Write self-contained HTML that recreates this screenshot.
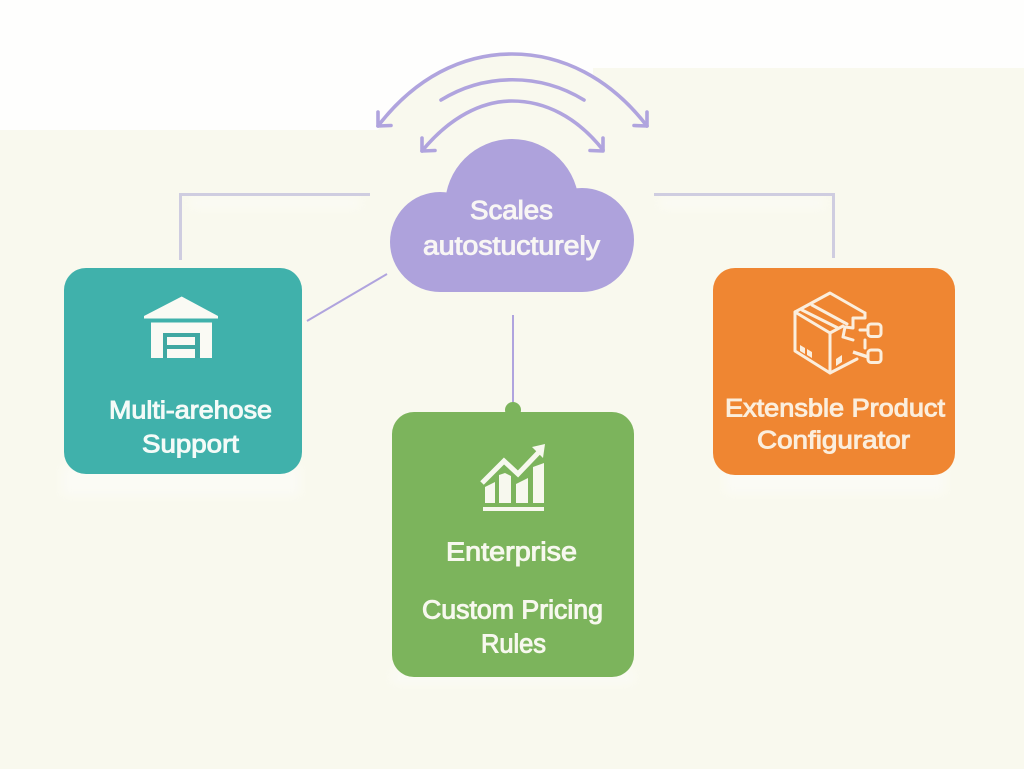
<!DOCTYPE html>
<html lang="en">
<head>
<meta charset="utf-8">
<title>Scales autostucturely</title>
<style>
html,body{margin:0;padding:0;background:#fff;width:1024px;height:769px;overflow:hidden}
svg{display:block}
text{font-family:"Liberation Sans",sans-serif;font-weight:400;text-anchor:start;stroke-width:.95;paint-order:stroke}
</style>
</head>
<body>
<svg width="1024" height="769" viewBox="0 0 1024 769" xmlns="http://www.w3.org/2000/svg">
<defs><filter id="b" x="-20%" y="-50%" width="140%" height="200%"><feGaussianBlur stdDeviation="5"/></filter></defs>
<rect width="1024" height="769" fill="#fefefd"/>
<polygon points="0,130 593,130 593,68 1024,68 1024,769 0,769" fill="#f9f9ee"/>
<path d="M378 130 C 415 78 462 54 512 54 C 545 54 575 62 600 80 L600 130 Z" fill="#f9f9ee"/>

<!-- soft halos -->
<g fill="#fbfbf5" filter="url(#b)">
<rect x="62" y="466" width="238" height="30"/>
<rect x="725" y="468" width="220" height="26"/>
<rect x="392" y="670" width="242" height="14"/>
<rect x="190" y="198" width="170" height="10"/>
<rect x="660" y="198" width="165" height="10"/>
</g>

<!-- arcs -->
<g fill="none" stroke="#b0a4de" stroke-width="3.6" stroke-linecap="round" stroke-linejoin="round">
<path d="M378 126 C 415 78 462 54 512 54 C 562 54 610 78 647 126"/>
<path d="M378 112 L378 126 L391 125.500"/>
<path d="M647 112 L647 126 L634 125.500"/>
<path d="M441 100 C 485 73 540 73 584 100"/>
<path d="M422 151 C 450 117 482 101 512 101 C 545 101 577 117 603 150"/>
<path d="M422 138 L422 151 L435 150.500"/>
<path d="M603 138 L603 151 L590 150.500"/>
</g>

<!-- connectors -->
<g fill="none" stroke="#cfcde0" stroke-width="3">
<path d="M370 194.500 L180.500 194.500 L180.500 260"/>
<path d="M654 194.500 L833.500 194.500 L833.500 258"/>
</g>
<path d="M387 274 L307 321" stroke="#b0a4de" stroke-width="2" fill="none"/>
<path d="M513 315 L513 405" stroke="#b0a4de" stroke-width="2" fill="none"/>

<!-- cloud -->
<g fill="#aea2dc">
<circle cx="512" cy="206" r="67"/>
<circle cx="440" cy="242" r="50"/>
<circle cx="582" cy="240" r="52"/>
<rect x="440" y="200" width="142" height="92"/>
</g>
<g fill="#f8f6f4" stroke="#f8f6f4" font-size="25.500">
<text x="470" y="219" textLength="83" lengthAdjust="spacingAndGlyphs">Scales</text>
<text x="423" y="254.500" textLength="177" lengthAdjust="spacingAndGlyphs">autostucturely</text>
</g>

<!-- teal card -->
<rect x="64" y="268" width="238" height="206" rx="22" fill="#40b1ab"/>
<polygon points="181.700,296.500 218,316 218,318.500 144,318.500 144,316" fill="#fafaf4"/>
<rect x="151" y="322.500" width="61" height="35.500" fill="#fafaf4"/>
<rect x="163" y="333" width="37" height="25" fill="#40a8a2"/>
<rect x="167" y="337" width="28" height="8" fill="#fafaf4"/>
<rect x="167" y="349" width="28" height="9" fill="#fafaf4"/>
<g fill="#f4fbf8" stroke="#f4fbf8" font-size="25">
<text x="109" y="418.500" textLength="163" lengthAdjust="spacingAndGlyphs">Multi-arehose</text>
<text x="142" y="452.500" textLength="97" lengthAdjust="spacingAndGlyphs">Support</text>
</g>

<!-- orange card -->
<rect x="713" y="268" width="242" height="207" rx="22" fill="#ef8632"/>
<g fill="none" stroke="#fbeedd" stroke-width="3" stroke-linejoin="round" stroke-linecap="round">
<path d="M865 313 L830 293 L795 312 L795 351 L830 373 L857 359"/>
<path d="M795 312 L830 333 L830 373"/>
<path d="M830 333 L843 326"/>
<path d="M865 313 L865 318 L853 318 L853 328 L845 327 L843 337 L853 340"/>
<path d="M802 310 L838 328 M812 305 L847 324"/>
<path d="M860 330 L868 330 M865 340 L865 348"/>
<rect x="868" y="324" width="13" height="12.500" rx="3"/>
<rect x="868" y="350" width="13" height="12.500" rx="3"/>
</g>
<path d="M853 352 L868 357" stroke="#fbeedd" stroke-width="3.500" fill="none"/>
<g fill="#fbeedd">
<polygon points="800,345 805,348 805,354 800,351"/>
<polygon points="807,349 812,352 812,358 807,355"/>
<polygon points="836,359 842,355 842,362 836,366"/>
</g>
<g fill="#fbeedd" stroke="#fbeedd" font-size="25">
<text x="725" y="416.500" textLength="220" lengthAdjust="spacingAndGlyphs">Extensble Product</text>
<text x="757" y="448.500" textLength="153" lengthAdjust="spacingAndGlyphs">Configurator</text>
</g>

<!-- green card -->
<circle cx="513" cy="410" r="8" fill="#7cb45c"/>
<rect x="392" y="412" width="242" height="265" rx="22" fill="#7cb45c"/>
<g fill="#f7f8ee">
<rect x="483" y="507" width="61" height="4"/>
<polygon points="485,487 495,482 495,503 485,503"/>
<polygon points="499,475 505,473 511,476 511,503 499,503"/>
<polygon points="516,484 528,478 528,503 516,503"/>
<polygon points="533,467 544,463 544,503 533,503"/>
<polygon points="532,447 545,444 543,458"/>
</g>
<path d="M482 483 L504 461 L518 474 L539 452" fill="none" stroke="#f7f8ee" stroke-width="5"/>
<g fill="#f7f8ee" stroke="#f7f8ee" font-size="25.500">
<text x="446" y="560.500" textLength="131" lengthAdjust="spacingAndGlyphs">Enterprise</text>
<text x="422" y="618.500" textLength="181" lengthAdjust="spacingAndGlyphs">Custom Pricing</text>
<text x="481" y="652.500" textLength="65" lengthAdjust="spacingAndGlyphs">Rules</text>
</g>
</svg>
</body>
</html>
